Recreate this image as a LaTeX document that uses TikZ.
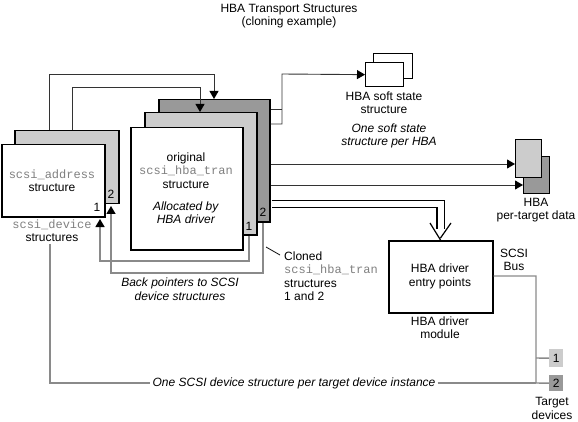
\documentclass[tikz,border=0pt]{standalone}
\usepackage{fontspec}
\setmainfont{Liberation Sans}
\setmonofont{Liberation Mono}
\usetikzlibrary{arrows.meta}
\definecolor{lgray}{HTML}{CCCCCC}
\definecolor{dgray}{HTML}{999999}
\definecolor{monogray}{HTML}{808080}
\definecolor{linegray}{HTML}{8A8A8A}
\newcommand\tmono[1]{{\ttfamily\color{monogray}#1}}
\tikzset{
  every node/.style={font=\fontsize{12}{13.5}\selectfont, inner sep=0pt},
  box/.style={draw=black, line width=1.5pt, anchor=north west},
  tbox/.style={anchor=north west},
  conn/.style={draw=black!80, line width=0.9pt},
  gconn/.style={draw=linegray, line width=1.4pt},
  tip/.style={-{Triangle[length=8pt,width=9pt,color=black]}},
}
\begin{document}
\begin{tikzpicture}[x=1pt,y=-1pt]
\useasboundingbox (0,0) rectangle (578,422);
% title
\node[align=center] (title) at (289,16) {HBA Transport Structures\\(cloning example)};
% left stack
\node[box, fill=lgray, minimum width=104pt, minimum height=73pt] (lback) at (14,130) {};
\node[box, fill=white, minimum width=103pt, minimum height=72pt] (lfront) at (1,144) {};
\node[align=center] (ltext) at (52,180.5) {\tmono{scsi\_address}\\structure};
\node (l1) at (97,207) {1};
\node (l2) at (111,194) {2};
\node[align=center] (ldev) at (52,230.5) {\tmono{scsi\_device}\\structures};
% middle stack
\node[box, fill=dgray, minimum width=111pt, minimum height=122pt] (mdark) at (158,99) {};
\node[box, fill=lgray, minimum width=112pt, minimum height=122pt] (mlight) at (144,112) {};
\node[box, fill=white, minimum width=112pt, minimum height=122pt] (mfront) at (130,127) {};
\node[align=center] (mtext) at (186,188) {original\\\tmono{scsi\_hba\_tran}\\structure\\[8.5pt]\textit{Allocated by}\\\textit{HBA driver}};
\node (m1) at (249,226) {1};
\node (m2) at (263,212) {2};
% soft state
\node[box, line width=1.3pt, fill=white, minimum width=39pt, minimum height=25pt] (softback) at (373,53) {};
\node[box, line width=1.3pt, fill=white, minimum width=38pt, minimum height=24pt] (softfront) at (365,62) {};
\node[align=center] (softtext) at (384,102.5) {HBA soft state\\structure};
\node[align=center] (softnote) at (389,136) {\textit{One soft state}\\\textit{structure per HBA}};
% per-target data
\node[box, line width=1.3pt, fill=dgray, minimum width=26pt, minimum height=37pt] (ptdark) at (523,156) {};
\node[box, line width=1.3pt, fill=lgray, minimum width=26pt, minimum height=38pt] (ptlight) at (515,139) {};
\node[align=center] (pttext) at (536,210) {HBA\\per-target data};
% HBA driver
\node[box, minimum width=104pt, minimum height=72pt] (entry) at (388,240) {};
\node[align=center] (entrytext) at (440,276.5) {HBA driver\\entry points};
\node[align=center] (module) at (440,327.5) {HBA driver\\module};
\node[align=center] (bus) at (514,260) {SCSI\\Bus};
% targets
\node[tbox, fill=lgray, minimum width=14pt, minimum height=18pt] (tgt1) at (549,349) {};
\node at (tgt1.center) {1};
\node[tbox, fill=dgray, minimum width=14pt, minimum height=16pt] (tgt2) at (549,375) {};
\node at (tgt2.center) {2};
\node[align=center] (tgttext) at (552,408.5) {Target\\devices};
% annotations
\node[align=center] (backtext) at (180,289) {\textit{Back pointers to SCSI}\\\textit{device structures}};
\node[align=left, anchor=west] (cloned) at (284,276) {Cloned\\\tmono{scsi\_hba\_tran}\\structures\\1 and 2};
\node[inner sep=2pt] (onescsi) at (294,383) {\textit{One SCSI device structure per target device instance}};
\coordinate (busc) at (536,383);
\coordinate (clonedtip) at (266,247);
% top arrows
\draw[conn, tip] (49,0 |- lback.north) |- (214,74) -- (214,0 |- mdark.north);
\draw[conn, tip] (72,0 |- lback.north) |- (200,87) -- (200,0 |- mlight.north);
% soft state connector
\draw[conn] (mdark.east |- 0,109) -- (282,109);
\draw[conn, tip] (mdark.east |- 0,124) -| (282,74) -- (softfront.west);
% per-target arrows
\draw[conn, tip] (mdark.east |- 0,164) -- (ptlight.west |- 0,164);
\draw[conn, tip] (mdark.east |- 0,185) -- (ptdark.west |- 0,185);
% double arrow to entry points
\draw[draw=black, line width=1.2pt, double=white, double distance=6pt] ([xshift=1pt]mdark.east |- 0,204) -| (440.5,229);
\draw[draw=black, line width=1.2pt] (430,223) -- (440.5,0 |- entry.north) ++(0,-2) -- (451,223);
% back pointers
\draw[gconn, tip, shorten >=1.5pt] (249,0 |- mlight.south) |- (100,261) -- (100,0 |- lfront.south);
\draw[gconn, tip, shorten >=1.5pt] (263,0 |- mdark.south) |- (111,273) -- (111,0 |- lback.south);
% cloned leader
\draw[draw=black, line width=0.8pt] (clonedtip) -- (280,255);
% bottom line and bus
\draw[gconn] (50,0 |- ldev.south) ++(0,2) |- (onescsi.west);
\draw[gconn] (onescsi.east) -- (busc);
\draw[gconn] (entry.east |- 0,276) -| (busc) -- (tgt2.west);
\draw[gconn] (536,358) -- (tgt1.west);
\end{tikzpicture}
\end{document}
